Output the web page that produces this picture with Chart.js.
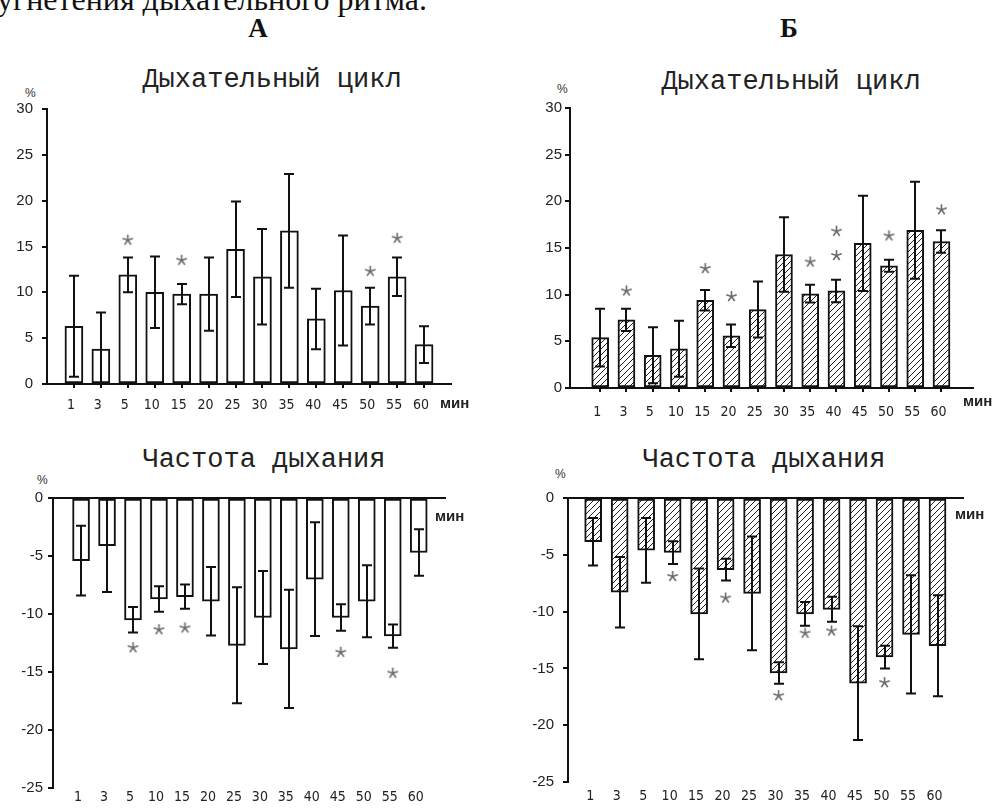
<!DOCTYPE html>
<html>
<head>
<meta charset="utf-8">
<script src="https://cdn.jsdelivr.net/npm/chart.js@4.4.1/dist/chart.umd.min.js"></script>
<style>
  body { margin: 0; background: #fff; }
  #page { position: relative; width: 997px; height: 810px; overflow: hidden; background: #fff; }
  .abs { position: absolute; white-space: nowrap; line-height: 1; }
  .ttl { font-family: 'Liberation Mono', monospace; font-size: 27px; color: #222; width: 400px; text-align: center; }
  .hdr { font-family: 'Liberation Serif', serif; font-weight: bold; font-size: 27px; width: 60px; text-align: center; color: #111; }
  .unit { font-family: 'Liberation Sans', Arial, sans-serif; font-weight: bold; font-size: 15px; color: #222; }
  .pct { font-family: 'Liberation Sans', Arial, sans-serif; font-size: 12px; color: #333; }
  canvas { position: absolute; }
</style>
</head>
<body>
<div id="page">
  <div class="abs" style="left:-3px;top:-19px;font:32px 'Liberation Serif',serif;color:#111">угнетения дыхательного ритма.</div>
  <div class="abs hdr" style="left:228px;top:15px">А</div>
  <div class="abs hdr" style="left:759px;top:15px">Б</div>
  <div class="abs ttl" style="left:72px;top:67px">Дыхательный цикл</div>
  <div class="abs ttl" style="left:591px;top:69px">Дыхательный цикл</div>
  <div class="abs ttl" style="left:64px;top:447px">Частота дыхания</div>
  <div class="abs ttl" style="left:564px;top:447px">Частота дыхания</div>
  <div class="abs pct" style="left:25px;top:87px">%</div>
  <div class="abs pct" style="left:557px;top:83px">%</div>
  <div class="abs pct" style="left:37px;top:474px">%</div>
  <div class="abs pct" style="left:555px;top:468px">%</div>
  <canvas id="cycle-a"></canvas>
  <canvas id="cycle-b"></canvas>
  <canvas id="rate-a"></canvas>
  <canvas id="rate-b"></canvas>
  <div class="abs unit" style="left:440px;top:395px">мин</div>
  <div class="abs unit" style="left:963px;top:393px">мин</div>
  <div class="abs unit" style="left:435px;top:508px">мин</div>
  <div class="abs unit" style="left:955px;top:506px">мин</div>
</div>
<script>
const minutes = ["1", "3", "5", "10", "15", "20", "25", "30", "35", "40", "45", "50", "55", "60"];

// А — Дыхательный цикл
const cycleA      = [6.3, 3.8, 11.9, 10.0, 9.8, 9.8, 14.7, 11.7, 16.7, 7.1, 10.2, 8.5, 11.7, 4.3];
const cycleAErr   = [5.5, 4.0, 1.9, 3.9, 1.1, 4.0, 5.2, 5.2, 6.2, 3.3, 6.0, 2.0, 2.1, 2.0];
const cycleAStars = [["5", 15.7], ["15", 13.5], ["50", 12.3], ["55", 15.9]];

// Б — Дыхательный цикл
const cycleB      = [5.4, 7.3, 3.5, 4.2, 9.4, 5.6, 8.4, 14.3, 10.1, 10.4, 15.5, 13.1, 16.9, 15.7];
const cycleBErr   = [3.1, 1.2, 3.0, 3.0, 1.1, 1.2, 3.0, 4.0, 0.95, 1.2, 5.1, 0.65, 5.2, 1.2];
const cycleBStars = [["3", 10.4], ["15", 12.8], ["20", 9.8], ["35", 13.5], ["40", 14.2], ["40", 16.8], ["50", 16.3], ["60", 19.1]];

// А — Частота дыхания
const rateA      = [-5.4, -4.1, -10.5, -8.7, -8.5, -8.9, -12.7, -10.3, -13.0, -7.0, -10.3, -8.9, -11.9, -4.7];
const rateAErr   = [3.0, 4.0, 1.1, 1.1, 1.05, 2.95, 5.0, 4.0, 5.1, 4.9, 1.15, 3.1, 1.0, 2.0];
const rateAStars = [["5", -12.9], ["10", -11.35], ["15", -11.2], ["45", -13.3], ["55", -15.1]];

// Б — Частота дыхания
const rateB      = [-3.85, -8.3, -4.6, -4.8, -10.2, -6.3, -8.4, -15.4, -10.2, -9.8, -16.3, -14.0, -12.0, -13.0];
const rateBErr   = [2.1, 3.1, 2.85, 1.0, 4.0, 0.96, 5.0, 0.95, 1.05, 1.1, 5.0, 1.0, 5.2, 4.45];
const rateBStars = [["10", -6.9], ["20", -8.8], ["30", -17.4], ["35", -11.9], ["40", -11.7], ["50", -16.25]];

const INK = "#111";
const narrow = "'Liberation Sans Narrow', 'DejaVu Sans Condensed', 'Liberation Sans', Arial, sans-serif";
Chart.defaults.font.family = "'Liberation Sans', Arial, sans-serif";

function starMark() {
  const c = document.createElement("canvas");
  c.width = c.height = 13;
  const g = c.getContext("2d");
  g.strokeStyle = "#6a6a6a";
  g.lineWidth = 1.6;
  g.beginPath();
  for (let k = 0; k < 5; k++) {
    const a = -Math.PI / 2 + k * 2 * Math.PI / 5;
    g.moveTo(6.5, 6.5);
    g.lineTo(6.5 + 5.5 * Math.cos(a), 6.5 + 5.5 * Math.sin(a));
  }
  g.stroke();
  return c;
}

function hatch() {
  const c = document.createElement("canvas");
  c.width = c.height = 6;
  const g = c.getContext("2d");
  g.fillStyle = "#fff";
  g.fillRect(0, 0, 6, 6);
  g.strokeStyle = "#222";
  g.lineWidth = 1;
  g.beginPath();
  g.moveTo(0, 6); g.lineTo(6, 0);
  g.moveTo(-1, 1); g.lineTo(1, -1);
  g.moveTo(5, 7); g.lineTo(7, 5);
  g.stroke();
  return g.createPattern(c, "repeat");
}

const starImg = starMark();

const errorBars = {
  id: "errorBars",
  afterDatasetsDraw(chart) {
    const { ctx, chartArea, scales: { x, y } } = chart;
    chart.data.datasets.forEach((ds) => {
      if (!ds.errors) return;
      ctx.save();
      ctx.beginPath();
      ctx.rect(chartArea.left, chartArea.top - 2, chartArea.width, chartArea.height + 2);
      ctx.clip();
      ctx.strokeStyle = INK;
      ctx.lineWidth = 2;
      ds.data.forEach((p, i) => {
        const e = ds.errors[i];
        const px = Math.round(x.getPixelForValue(p.x));
        const hi = y.getPixelForValue(p.y + e), lo = y.getPixelForValue(p.y - e);
        ctx.beginPath();
        ctx.moveTo(px, hi); ctx.lineTo(px, lo);
        ctx.moveTo(px - 5, hi); ctx.lineTo(px + 5, hi);
        ctx.moveTo(px - 5, lo); ctx.lineTo(px + 5, lo);
        ctx.stroke();
      });
      ctx.restore();
    });
  },
};

function makePanel(id, g, values, errors, stars, fill) {
  const canvas = document.getElementById(id);
  canvas.style.left = g.left + "px";
  canvas.style.top = g.top + "px";
  canvas.width = g.width;
  canvas.height = g.height;
  const neg = g.ymax === 0;
  return new Chart(canvas, {
    type: "bar",
    data: {
      datasets: [
        {
          type: "bar",
          data: values.map((v, i) => ({ x: i + 1, y: v })),
          errors,
          backgroundColor: fill,
          borderColor: INK,
          borderWidth: 2,
          borderSkipped: false,
          barThickness: g.bar,
          order: 2,
        },
        {
          type: "scatter",
          data: stars.map(([m, v]) => ({ x: minutes.indexOf(m) + 1, y: v })),
          pointStyle: starImg,
          order: 1,
        },
      ],
    },
    options: {
      responsive: false, animation: false, events: [],
      layout: { padding: { left: 0, right: g.left + g.width - g.x1, top: g.yTop - g.top, bottom: g.top + g.height - g.yBot - g.xH } },
      plugins: { legend: { display: false }, tooltip: { enabled: false } },
      scales: {
        x: {
          type: "linear", min: g.xmin, max: g.xmax, offset: false,
          afterBuildTicks: (s) => { s.ticks = minutes.map((m, i) => ({ value: i + 1 })); },
          afterFit: (s) => { s.height = g.xH; },
          ticks: { callback: (v) => minutes[v - 1] || "", padding: g.xPad, labelOffset: -3, maxRotation: 0, autoSkip: false, color: "#222", font: { size: 14, family: narrow } },
          grid: { display: !neg, offset: false, drawOnChartArea: false, tickLength: 4, color: INK, lineWidth: 2 },
          border: { display: !neg, color: INK, width: 2 },
        },
        y: {
          min: g.ymin, max: g.ymax,
          afterFit: (s) => { s.width = g.x0 - g.left; },
          ticks: { stepSize: 5, padding: g.yPad, color: "#222", font: { size: 15 } },
          grid: {
            drawOnChartArea: neg, tickLength: 5, lineWidth: 2, tickColor: INK,
            color: (c) => (c.tick && c.tick.value === 0 ? INK : "rgba(0,0,0,0)"),
          },
          border: { color: INK, width: 2 },
        },
      },
    },
    plugins: [errorBars],
  });
}

makePanel("cycle-a", { left: 0, top: 90, width: 490, height: 330, x0: 47, x1: 451, yTop: 109, yBot: 384, xH: 30,
  ymin: 0, ymax: 30, xmin: 0, xmax: 15, bar: 18, yPad: 9, xPad: 9 }, cycleA, cycleAErr, cycleAStars, "#fff");
makePanel("cycle-b", { left: 500, top: 90, width: 497, height: 330, x0: 570, x1: 973, yTop: 108, yBot: 388, xH: 30,
  ymin: 0, ymax: 30, xmin: -0.15, xmax: 15.2, bar: 17, yPad: 3, xPad: 12 }, cycleB, cycleBErr, cycleBStars, hatch());
makePanel("rate-a", { left: 0, top: 480, width: 490, height: 330, x0: 53, x1: 446, yTop: 498, yBot: 788, xH: 20,
  ymin: -25, ymax: 0, xmin: -0.08, xmax: 15.05, bar: 17, yPad: 5, xPad: -3 }, rateA, rateAErr, rateAStars, "#fff");
makePanel("rate-b", { left: 500, top: 480, width: 497, height: 330, x0: 568, x1: 964, yTop: 496, yBot: 782, xH: 22,
  ymin: -25, ymax: 0, xmin: 0.05, xmax: 15, bar: 17, yPad: 9, xPad: 2 }, rateB, rateBErr, rateBStars, hatch());
</script>
</body>
</html>
